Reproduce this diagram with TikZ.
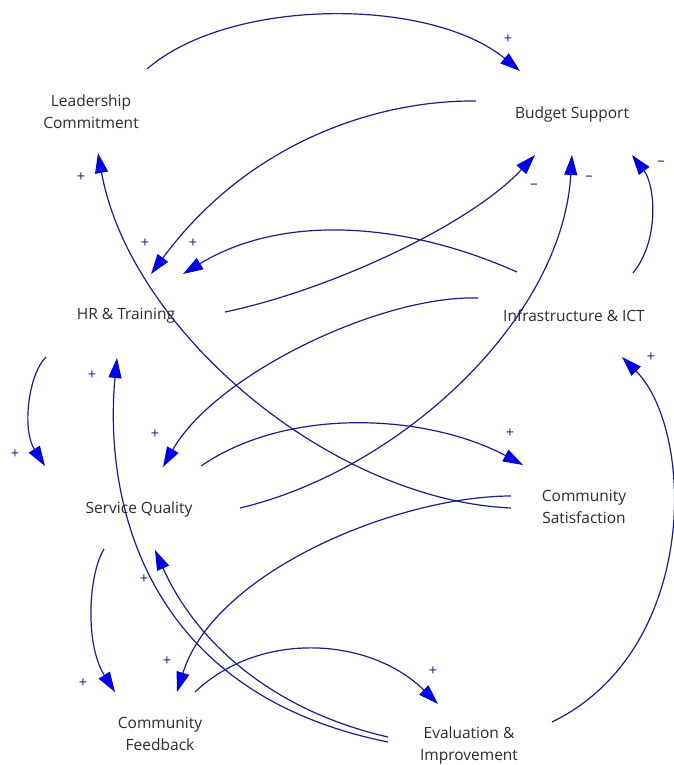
\documentclass[tikz,border=0pt]{standalone}
\usepackage{fontspec}
\setmainfont{Open Sans}
\usetikzlibrary{arrows.meta}

\begin{document}
\begin{tikzpicture}[x=1pt,y=-1pt]
    % Colores
    \definecolor{linkcolor}{RGB}{30,30,135}
    \definecolor{tipcolor}{RGB}{0,0,228}
    \definecolor{textcolor}{RGB}{45,45,45}
    \tikzset{
        factor/.style={align=center,text=textcolor,inner sep=1pt,font=\fontsize{15.5}{22}\selectfont},
        link/.style={linkcolor,line width=1.2pt,-{Triangle[length=20pt,width=13pt,color=tipcolor]}},
        sign/.style={text=linkcolor,inner sep=0pt,font=\fontsize{14.5}{15}\selectfont}
    }

    % Fondo
    \fill[white] (0,0) rectangle (673,765);
    \useasboundingbox (0,0) rectangle (673,765);

    % Variables
    \node[factor] (lead) at (91,112) {Leadership\\Commitment};
    \node[factor] (budget) at (572,114) {Budget Support};
    \node[factor] (hr) at (126,316) {HR \& Training};
    \node[factor] (infra) at (574,316) {Infrastructure \& ICT};
    \node[factor] (quality) at (139,509) {Service Quality};
    \node[factor] (sat) at (584,507) {Community\\Satisfaction};
    \node[factor] (feedback) at (160,734) {Community\\Feedback};
    \node[factor] (eval) at (469,745) {Evaluation \&\\Improvement};

    % Enlaces causales
    \draw[link] ([shift={(56,-43)}]lead.center) .. controls (230,-3) and (430,-3) .. ([shift={(-52,-43)}]budget.center);
    \draw[link] ([shift={(-96,-13)}]budget.center) .. controls (380,100) and (250,140) .. ([shift={(25,-42)}]hr.center);
    \draw[link] ([shift={(-57,-44)}]infra.center) .. controls (400,220) and (280,215) .. ([shift={(57,-42)}]hr.center);
    \draw[link] ([shift={(99,-4)}]hr.center) .. controls (330,290) and (470,225) .. ([shift={(-37,41)}]budget.center);
    \draw[link] ([shift={(101,-1)}]quality.center) .. controls (400,470) and (562,320) .. ([shift={(0,41)}]budget.center);
    \draw[link] ([shift={(59,-43)}]infra.center) .. controls (660,240) and (655,185) .. ([shift={(60,41)}]budget.center);
    \draw[link] ([shift={(-73,1)}]sat.center) .. controls (330,500) and (130,330) .. ([shift={(7,41)}]lead.center);
    \draw[link] ([shift={(-73,-11)}]sat.center) .. controls (400,496) and (215,570) .. ([shift={(17,-42)}]feedback.center);
    \draw[link] ([shift={(-96,-18)}]infra.center) .. controls (380,295) and (215,375) .. ([shift={(24,-42)}]quality.center);
    \draw[link] ([shift={(62,-43)}]quality.center) .. controls (290,405) and (430,415) .. ([shift={(-61,-42)}]sat.center);
    \draw[link] ([shift={(-80,41)}]hr.center) .. controls (28,375) and (22,430) .. ([shift={(-94,-43)}]quality.center);
    \draw[link] ([shift={(-35,40)}]quality.center) .. controls (88,575) and (85,645) .. ([shift={(-45,-42)}]feedback.center);
    \draw[link] ([shift={(35,-42)}]feedback.center) .. controls (260,630) and (370,637) .. ([shift={(-31,-41)}]eval.center);
    \draw[link] ([shift={(-81,-3)}]eval.center) .. controls (130,690) and (105,480) .. ([shift={(-9,42)}]hr.center);
    \draw[link] ([shift={(-81,-8)}]eval.center) .. controls (270,710) and (195,640) .. ([shift={(16,41)}]quality.center);
    \draw[link] ([shift={(83,-23)}]eval.center) .. controls (700,650) and (695,430) .. ([shift={(48,41)}]infra.center);

    % Polaridades
    \foreach \x/\y/\s [count=\i] in {508/39/+,81/177/+,534/186/–,589/178/–,661/163/–,
        145/243/+,193/243/+,92/375/+,651/357/+,155/434/+,510/433/+,15/454/+,
        144/579/+,167/661/+,83/683/+,433/671/+}
    {
        \node[sign] (sign\i) at (\x,\y) {\s};
    }

\end{tikzpicture}
\end{document}
